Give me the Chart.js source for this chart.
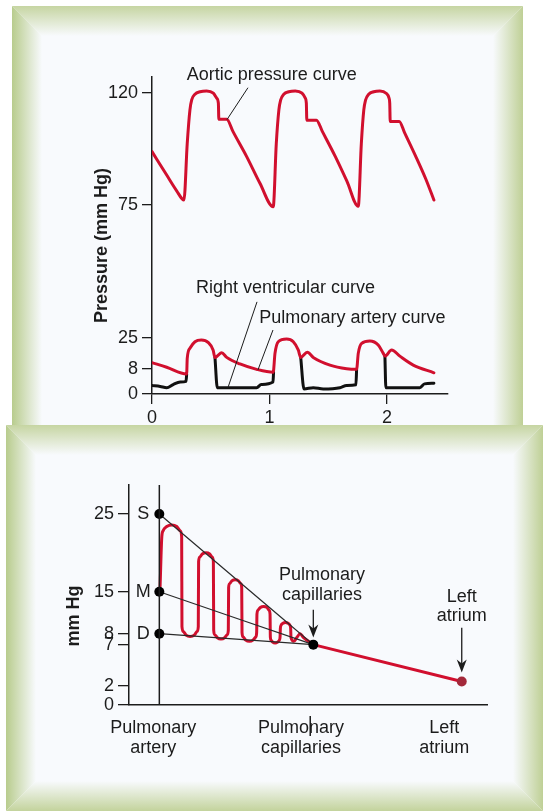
<!DOCTYPE html>
<html lang="en">
<head>
<meta charset="UTF-8">
<title>Pulmonary and aortic pressures</title>
<script src="https://cdn.jsdelivr.net/npm/chart.js@4"></script>
<style>
    body { margin: 0; width: 543px; height: 811px; background: #fff; position: relative; overflow: hidden; }
    #top { position: absolute; left: 12px; top: 6px; }
    #bottom { position: absolute; left: 6px; top: 425px; }
</style>
</head>
<body>
<canvas id="top" width="511" height="449"></canvas>
<canvas id="bottom" width="537" height="386"></canvas>
<script>
const FONT = '"Liberation Sans", Arial, Helvetica, sans-serif';
const INK = '#1c1c1c';
const RED = '#d10f2e';
const PANEL = '#f8fafd';

// ---- top chart: pressure (mm Hg) over time (s)
const timeTicks = [0, 1, 2];
const pressureTicks = [0, 8, 25, 75, 120];

const aorticTime = [0, 0.125, 0.21, 0.272, 0.30, 0.323, 0.338, 0.366, 0.409, 0.465, 0.522, 0.551, 0.565, 0.569, 0.636, 0.69, 0.806, 0.919,
    1.032, 1.058, 1.08, 1.095, 1.122, 1.165, 1.22, 1.277, 1.305, 1.314, 1.318, 1.40, 1.45, 1.56, 1.66,
    1.756, 1.782, 1.803, 1.818, 1.845, 1.888, 1.94, 1.993, 2.018, 2.024, 2.028, 2.105, 2.15, 2.25, 2.33, 2.40];
const aorticPressure = [96.4, 87, 80.7, 77, 99.7, 113.1, 117.1, 119.4, 120.4, 120.7, 119.8, 117.8, 115.8, 109.4, 109.4, 104.4, 94.4, 83.7,
    74.3, 99.5, 113, 117, 119.4, 120.4, 120.7, 119.8, 117.8, 115.8, 109, 109, 104.5, 94.5, 84.5,
    74.5, 99.5, 113, 117, 119.4, 120.4, 120.7, 119.8, 117.8, 115.8, 108.5, 108.5, 104, 94, 85.5, 77];

const paTime = [0, 0.125, 0.295, 0.30, 0.323, 0.366, 0.42, 0.48, 0.52, 0.536, 0.556, 0.593, 0.636, 0.749, 0.891,
    1.032, 1.047, 1.075, 1.146, 1.203, 1.245, 1.266, 1.322, 1.373, 1.515, 1.657,
    1.742, 1.756, 1.785, 1.855, 1.926, 1.969, 1.983, 2.04, 2.11, 2.224, 2.40];
const paPressure = [11.3, 8.8, 6.3, 13.7, 19.2, 22.8, 23.7, 22.3, 18.3, 14.2, 14.9, 16.8, 14.2, 10.6, 7.8,
    6.9, 16.4, 22.8, 24.3, 22.8, 18.3, 14.2, 17, 14.2, 10, 8,
    7.8, 16.4, 21.9, 23.2, 21, 16.4, 14.9, 18.3, 14.9, 10, 6.7];

const rvTime = [0, 0.07, 0.125, 0.18, 0.24, 0.29, 0.295, 0.41, 0.536, 0.556, 0.891, 0.93, 1.03, 1.035,
    1.15, 1.266, 1.294, 1.373, 1.458, 1.60, 1.657, 1.736, 1.742, 1.86, 1.983, 1.991, 2.28, 2.32, 2.40];
const rvPressure = [2.7, 2.4, 2.0, 3.0, 3.8, 4.0, 6.3, null, 14.2, 2.0, 2.0, 3.0, 3.8, 6.9,
    null, 14.2, 1.6, 2.0, 1.6, 2.0, 2.7, 2.9, 7.8, null, 14.9, 2.0, 2.0, 3.2, 3.4];

// ---- bottom chart: pressure drop from pulmonary artery to left atrium
const siteX = [0, 1, 1.964];
const siteNames = [['Pulmonary', 'artery'], ['Pulmonary', 'capillaries'], ['Left', 'atrium']];
const phaseNames = ['S', 'M', 'D'];
const phasePressure = [25, 15, 8];
const capillaryPressure = 7;
const atriumPressure = 2.5;
const mmHgTicks = [0, 2, 7, 8, 15, 25];
const waveX = [0.005,
    0.016, 0.024, 0.048, 0.081, 0.113, 0.137, 0.145,
    0.147, 0.155, 0.174, 0.200, 0.227, 0.246, 0.253,
    0.255, 0.262, 0.279, 0.303, 0.327, 0.344, 0.351,
    0.353, 0.359, 0.377, 0.400, 0.424, 0.442, 0.448,
    0.450, 0.456, 0.471, 0.493, 0.514, 0.529, 0.535,
    0.537, 0.544, 0.561, 0.585, 0.608, 0.626, 0.632,
    0.634, 0.640, 0.656, 0.677, 0.698, 0.713, 0.719,
    0.721, 0.725, 0.736, 0.752, 0.768, 0.780, 0.784,
    0.786, 0.790, 0.803, 0.819, 0.836, 0.849, 0.853,
    0.855, 0.873, 0.892,
    0.894, 0.914, 0.935,
    1.0];
const wavePressure = [15.68,
    22.05, 22.82, 23.38, 23.59, 23.38, 22.82, 22.05,
    9.18, 8.37, 7.87, 7.75, 7.87, 8.37, 9.18,
    18.87, 19.44, 19.85, 20.0, 19.85, 19.44, 18.87,
    8.58, 7.92, 7.63, 7.52, 7.63, 7.92, 8.58,
    15.53, 16.03, 16.40, 16.54, 16.40, 16.03, 15.53,
    8.18, 7.70, 7.41, 7.3, 7.41, 7.70, 8.18,
    11.25, 11.9, 12.38, 12.55, 12.38, 11.9, 11.25,
    7.68, 7.42, 7.23, 7.15, 7.23, 7.42, 7.68,
    8.85, 9.37, 9.75, 9.88, 9.75, 9.37, 8.85,
    7.63, 7.3, 7.63,
    7.67, 8.0, 7.67,
    7];

// the drawing's pressure axes are not to scale: piecewise mapping mm Hg -> axis units
function makeWarp(vals, pos) {
    return function (v) {
        let i = 1;
        while (i < vals.length - 1 && v > vals[i]) i++;
        const t = (v - vals[i - 1]) / (vals[i] - vals[i - 1]);
        return pos[i - 1] + t * (pos[i] - pos[i - 1]);
    };
}
const warpTop = makeWarp(pressureTicks, [0, 25.3, 56.3, 189, 301.3]);
const warpBottom = makeWarp(mmHgTicks, [0, 19.5, 60.5, 71.5, 113.5, 191.5]);

function points(xs, ys, warp) {
    return xs.map((x, i) => ({ x: x, y: ys[i] === null ? null : warp(ys[i]) }));
}

// green bevelled panel
function drawBevel(ctx, w, h) {
    const b = 30;
    const sides = [
        { poly: [[0, 0], [w, 0], [w - b, b], [b, b]], g: [0, 0, 0, b], c: '#c6d5a2' },
        { poly: [[0, 0], [b, b], [b, h - b], [0, h]], g: [0, 0, b, 0], c: '#b8cc8d' },
        { poly: [[w, 0], [w, h], [w - b, h - b], [w - b, b]], g: [w, 0, w - b, 0], c: '#bfd096' },
        { poly: [[0, h], [b, h - b], [w - b, h - b], [w, h]], g: [0, h, 0, h - b], c: '#c3d39c' }
    ];
    ctx.save();
    ctx.fillStyle = PANEL;
    ctx.fillRect(0, 0, w, h);
    sides.forEach(s => {
        const grad = ctx.createLinearGradient(s.g[0], s.g[1], s.g[2], s.g[3]);
        grad.addColorStop(0, s.c);
        grad.addColorStop(1, PANEL);
        ctx.fillStyle = grad;
        ctx.beginPath();
        s.poly.forEach((p, i) => i ? ctx.lineTo(p[0], p[1]) : ctx.moveTo(p[0], p[1]));
        ctx.closePath();
        ctx.fill();
    });
    ctx.restore();
}

const panelFrame = {
    id: 'panelFrame',
    beforeDraw(chart) { drawBevel(chart.ctx, chart.width, chart.height); }
};

function line(ctx, a, b, width) {
    ctx.beginPath();
    ctx.moveTo(a[0], a[1]);
    ctx.lineTo(b[0], b[1]);
    ctx.lineWidth = width;
    ctx.strokeStyle = INK;
    ctx.stroke();
}

function arrow(ctx, a, b) {
    line(ctx, a, [b[0], b[1] - 8], 1.3);
    ctx.beginPath();
    ctx.moveTo(b[0], b[1]);
    ctx.lineTo(b[0] - 5, b[1] - 13);
    ctx.lineTo(b[0], b[1] - 9);
    ctx.lineTo(b[0] + 5, b[1] - 13);
    ctx.closePath();
    ctx.fillStyle = INK;
    ctx.fill();
}

function text(ctx, str, x, y, bold, rotate) {
    ctx.save();
    ctx.translate(x, y);
    if (rotate) ctx.rotate(-Math.PI / 2);
    ctx.font = (bold ? 'bold ' : '') + '18px ' + FONT;
    ctx.fillStyle = INK;
    ctx.textAlign = 'center';
    ctx.textBaseline = 'middle';
    ctx.fillText(str, 0, 0);
    ctx.restore();
}

// labels and leader lines, placed in data units
const topNotes = {
    id: 'topNotes',
    afterDraw(chart) {
        const { ctx, chartArea } = chart;
        const px = (t, p) => [chart.scales.x.getPixelForValue(t), chart.scales.y.getPixelForValue(warpTop(p))];
        const notes = [
            { label: 'Aortic pressure curve', at: [1.02, 127.2], from: [0.817, 122], to: [0.638, 109.2] },
            { label: 'Right ventricular curve', at: [1.136, 43.7], from: [0.894, 38.5], to: [0.647, 2.05] },
            { label: 'Pulmonary artery curve', at: [1.706, 32.4], from: [1.03, 27.9], to: [0.902, 7.6] }
        ];
        notes.forEach(n => {
            const p = px(n.at[0], n.at[1]);
            text(ctx, n.label, p[0], p[1], false);
            line(ctx, px(n.from[0], n.from[1]), px(n.to[0], n.to[1]), 1);
        });
        text(ctx, 'Pressure (mm Hg)', chartArea.left - 50, (chartArea.top + chartArea.bottom) / 2 + 10, true, true);
    }
};

const bottomNotes = {
    id: 'bottomNotes',
    afterDraw(chart) {
        const { ctx, chartArea } = chart;
        const xs = chart.scales.x, ys = chart.scales.y;
        const px = (x, p) => [xs.getPixelForValue(x), ys.getPixelForValue(warpBottom(p))];
        const artery = xs.getPixelForValue(siteX[0]);
        line(ctx, [artery, chartArea.top], [artery, chartArea.bottom], 1.5);
        phaseNames.forEach((name, i) => {
            const p = px(siteX[0], phasePressure[i]);
            text(ctx, name, p[0] - 16, p[1], false);
        });
        const cap = px(1.056, 17.2);
        text(ctx, siteNames[1][0], cap[0], cap[1], false);
        text(ctx, siteNames[1][1], cap[0], cap[1] + 20, false);
        arrow(ctx, px(siteX[1], 12), px(siteX[1], 7.64));
        const la = px(siteX[2], 14.2);
        text(ctx, siteNames[2][0], la[0], la[1], false);
        text(ctx, siteNames[2][1], la[0], la[1] + 19, false);
        arrow(ctx, px(siteX[2], 9), px(siteX[2], 3.6));
        const stray = xs.getPixelForValue(0.98);
        line(ctx, [stray, chartArea.bottom + 11], [stray, chartArea.bottom + 31], 1.5);
        text(ctx, 'mm Hg', chartArea.left - 55, (chartArea.top + chartArea.bottom) / 2 + 21, true, true);
    }
};

function axis(extra) {
    return Object.assign({
        type: 'linear',
        grid: { drawOnChartArea: false, color: INK, lineWidth: 1.3, tickLength: 10 },
        border: { color: INK, width: 1.5 },
        ticks: { color: INK, font: { family: FONT, size: 18 }, autoSkip: false, maxRotation: 0 }
    }, extra);
}

const common = {
    responsive: false,
    animation: false,
    events: [],
    elements: {
        point: { radius: 0 },
        line: { cubicInterpolationMode: 'monotone', borderJoinStyle: 'round', borderCapStyle: 'round', borderWidth: 3 }
    },
    plugins: { legend: { display: false }, tooltip: { enabled: false } }
};

new Chart(document.getElementById('top'), {
    type: 'line',
    data: {
        datasets: [
            { data: points(aorticTime, aorticPressure, warpTop), borderColor: RED },
            { data: points(paTime, paPressure, warpTop), borderColor: RED },
            { data: points(rvTime, rvPressure, warpTop), borderColor: '#111' }
        ]
    },
    options: Object.assign({}, common, {
        layout: { padding: { top: 71, right: 75, left: 0, bottom: 0 } },
        scales: {
            x: axis({
                min: 0, max: 2.52,
                afterFit: s => { s.height = 61; },
                afterBuildTicks: s => { s.ticks = timeTicks.map(v => ({ value: v })); },
                ticks: { color: INK, font: { family: FONT, size: 18 }, padding: 3, maxRotation: 0, callback: (v, i) => timeTicks[i] }
            }),
            y: axis({
                min: 0, max: 317,
                afterFit: s => { s.width = 140; },
                afterBuildTicks: s => { s.ticks = pressureTicks.map(v => ({ value: warpTop(v) })); },
                ticks: { color: INK, font: { family: FONT, size: 18 }, padding: 4, autoSkip: false, callback: (v, i) => pressureTicks[i] }
            })
        }
    }),
    plugins: [panelFrame, topNotes]
});

const labelX = [-0.04, 0.92, 1.85];
new Chart(document.getElementById('bottom'), {
    type: 'line',
    data: {
        datasets: [
            {
                data: phasePressure.map(p => ({ x: siteX[0], y: warpBottom(p) })).concat([{ x: siteX[1], y: warpBottom(capillaryPressure) }]),
                showLine: false, pointRadius: 5, pointBackgroundColor: '#000', pointBorderWidth: 0
            },
            {
                data: [{ x: siteX[2], y: warpBottom(atriumPressure) }],
                showLine: false, pointRadius: 5, pointBackgroundColor: '#a3283a', pointBorderWidth: 0
            }
        ].concat(phasePressure.map(p => ({
            data: [{ x: siteX[0], y: warpBottom(p) }, { x: siteX[1], y: warpBottom(capillaryPressure) }],
            borderColor: '#2a2a2a', borderWidth: 1.2
        }))).concat([
            { data: [{ x: siteX[1], y: warpBottom(capillaryPressure) }, { x: siteX[2], y: warpBottom(atriumPressure) }], borderColor: RED },
            { data: points(waveX, wavePressure, warpBottom), borderColor: RED }
        ])
    },
    options: Object.assign({}, common, {
        layout: { padding: { top: 60, right: 56, left: 0, bottom: 0 } },
        scales: {
            x: axis({
                min: -0.197, max: 2.128,
                afterFit: s => { s.height = 106; },
                afterBuildTicks: s => { s.ticks = labelX.map(v => ({ value: v })); },
                grid: { drawOnChartArea: false, drawTicks: false },
                ticks: { color: INK, font: { family: FONT, size: 18, lineHeight: 1.1 }, padding: 13, maxRotation: 0, autoSkip: false, callback: (v, i) => siteNames[i] }
            }),
            y: axis({
                min: 0, max: 220.5,
                afterFit: s => { s.width = 123; },
                afterBuildTicks: s => { s.ticks = mmHgTicks.map(v => ({ value: warpBottom(v) })); },
                grid: { drawOnChartArea: false, color: INK, lineWidth: 1.3, tickLength: 11 },
                ticks: { color: INK, font: { family: FONT, size: 18 }, padding: 4, autoSkip: false, callback: (v, i) => mmHgTicks[i] }
            })
        }
    }),
    plugins: [panelFrame, bottomNotes]
});
</script>
</body>
</html>
